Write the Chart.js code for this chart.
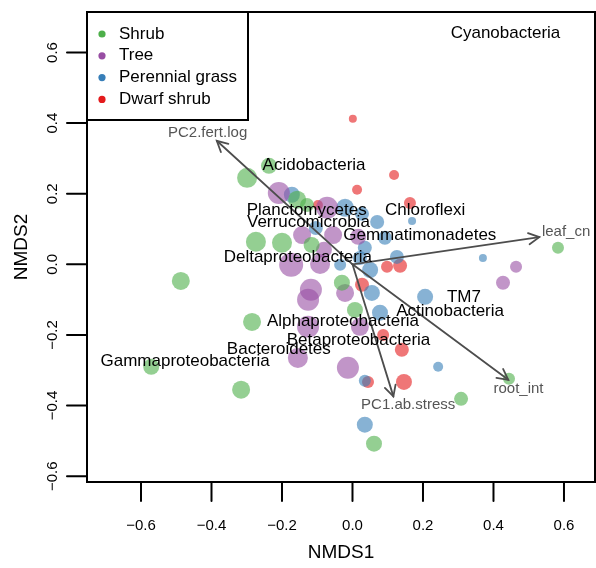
<!DOCTYPE html>
<html>
<head>
<meta charset="utf-8">
<script src="https://cdn.jsdelivr.net/npm/chart.js@4"></script>
<style>
html,body{margin:0;padding:0;background:#fff;}
canvas{display:block;}
</style>
</head>
<body>
<canvas id="c" width="596" height="568"></canvas>
<script>
// ---------- data ----------
const groups = ['Shrub', 'Tree', 'Perennial grass', 'Dwarf shrub'];

const shrubX = [-0.487, -0.299, -0.237, -0.274, -0.200, -0.157, -0.129, -0.285, -0.571, -0.316, 0.583, 0.444, 0.308, 0.061, -0.030, 0.007, -0.116];
const shrubY = [-0.047, 0.245, 0.279, 0.064, 0.061, 0.183, 0.168, -0.163, -0.290, -0.355, 0.047, -0.324, -0.381, -0.508, -0.052, -0.129, 0.055];
const shrubW = [9, 10, 8, 10, 10, 9, 7, 9, 8, 9, 6, 6, 7, 8, 8, 8, 8];

const treeX = [-0.209, -0.072, -0.143, -0.055, 0.016, -0.174, -0.092, -0.118, -0.126, -0.021, -0.126, 0.021, -0.155, -0.013, 0.427, 0.464, -0.081];
const treeY = [0.202, 0.160, 0.083, 0.083, 0.078, -0.001, 0.001, -0.072, -0.100, -0.081, -0.177, -0.177, -0.265, -0.293, -0.052, -0.007, 0.041];
const treeW = [11, 11, 9, 9, 8, 12, 10, 11, 11, 9, 11, 9, 10, 11, 7, 6, 8];

const grassX = [-0.172, -0.021, 0.027, 0.070, 0.092, 0.126, 0.050, 0.021, -0.035, 0.169, 0.206, 0.055, 0.078, 0.243, 0.035, 0.035, 0.370, -0.104, 0.035];
const grassY = [0.197, 0.160, 0.143, 0.120, 0.075, 0.021, -0.016, 0.018, -0.001, 0.123, -0.092, -0.081, -0.137, -0.290, -0.454, -0.330, 0.018, 0.103, 0.047];
const grassW = [8, 9, 7, 7, 7, 7, 8, 7, 6, 4, 8, 8, 8, 5, 8, 6, 4, 7, 7];

const dwarfX = [0.001, 0.118, 0.013, 0.163, 0.098, 0.135, 0.027, 0.087, 0.140, 0.044, 0.146, -0.098];
const dwarfY = [0.412, 0.253, 0.211, 0.174, -0.007, -0.004, -0.058, -0.200, -0.242, -0.333, -0.333, 0.168];
const dwarfW = [4, 5, 5, 6, 6, 7, 7, 6, 7, 6, 8, 5];

const taxaNames = ['Cyanobacteria', 'Acidobacteria', 'Planctomycetes', 'Verrucomicrobia', 'Gemmatimonadetes',
  'Deltaproteobacteria', 'Chloroflexi', 'TM7', 'Actinobacteria', 'Alphaproteobacteria',
  'Betaproteobacteria', 'Bacteroidetes', 'Gammaproteobacteria'];
const taxaX = [0.434, -0.109, -0.130, -0.125, 0.191, -0.155, 0.206, 0.316, 0.277, -0.027, 0.017, -0.209, -0.475];
const taxaY = [0.654, 0.281, 0.154, 0.118, 0.081, 0.020, 0.154, -0.093, -0.134, -0.162, -0.214, -0.242, -0.275];

const vectorNames = ['PC2.fert.log', 'leaf_cn', 'root_int', 'PC1.ab.stress'];
const vectorX = [-0.385, 0.530, 0.442, 0.116];
const vectorY = [0.350, 0.077, -0.327, -0.374];
const vectorLabelX = [-0.411, 0.606, 0.471, 0.158];
const vectorLabelY = [0.373, 0.093, -0.352, -0.398];

const xTicks = [-0.6, -0.4, -0.2, 0.0, 0.2, 0.4, 0.6];
const yTicks = [-0.6, -0.4, -0.2, 0.0, 0.2, 0.4, 0.6];
const xTitle = 'NMDS1';
const yTitle = 'NMDS2';

// ---------- styles ----------
const solid = ['#4DAF4A', '#984EA3', '#377EB8', '#E41A1C'];
const faded = ['rgba(77,175,74,0.6)', 'rgba(152,78,163,0.6)', 'rgba(55,126,184,0.6)', 'rgba(228,26,28,0.6)'];
const FONT = '"Liberation Sans", Arial, Helvetica, sans-serif';

function pts(xs, ys, ws) { return xs.map((x, i) => ({ x: x, y: ys[i], r: ws[i] })); }
const series = [pts(shrubX, shrubY, shrubW), pts(treeX, treeY, treeW), pts(grassX, grassY, grassW), pts(dwarfX, dwarfY, dwarfW)];

function fmt(v) {
  const s = Math.abs(v).toFixed(1);
  return v < -1e-9 ? '\u2212' + s : s;
}

const overlay = {
  id: 'overlay',
  afterDatasetsDraw(chart) {
    const ctx = chart.ctx;
    const xs = chart.scales.x, ys = chart.scales.y;
    const a = chart.chartArea;
    ctx.save();

    // arrows
    const ox = xs.getPixelForValue(0), oy = ys.getPixelForValue(0);
    ctx.strokeStyle = '#4D4D4D';
    ctx.lineWidth = 1.8;
    ctx.lineCap = 'round';
    vectorNames.forEach((n, i) => {
      const tx = xs.getPixelForValue(vectorX[i]), ty = ys.getPixelForValue(vectorY[i]);
      ctx.beginPath(); ctx.moveTo(ox, oy); ctx.lineTo(tx, ty); ctx.stroke();
      const ang = Math.atan2(ty - oy, tx - ox), L = 12, s = Math.PI / 6.5;
      ctx.beginPath();
      ctx.moveTo(tx - L * Math.cos(ang - s), ty - L * Math.sin(ang - s));
      ctx.lineTo(tx, ty);
      ctx.lineTo(tx - L * Math.cos(ang + s), ty - L * Math.sin(ang + s));
      ctx.stroke();
    });
    ctx.fillStyle = '#555555';
    ctx.font = '15px ' + FONT;
    ctx.textAlign = 'center'; ctx.textBaseline = 'middle';
    vectorNames.forEach((n, i) => {
      ctx.fillText(n, xs.getPixelForValue(vectorLabelX[i]), ys.getPixelForValue(vectorLabelY[i]));
    });

    // taxa labels
    ctx.fillStyle = '#000';
    ctx.font = '17px ' + FONT;
    taxaNames.forEach((n, i) => {
      ctx.fillText(n, xs.getPixelForValue(taxaX[i]), ys.getPixelForValue(taxaY[i]));
    });

    // legend
    const lx = a.left, ly = a.top, lw = 161, lh = 108;
    ctx.fillStyle = '#fff';
    ctx.fillRect(lx, ly, lw, lh);
    ctx.strokeStyle = '#000'; ctx.lineWidth = 2;
    ctx.strokeRect(lx, ly, lw, lh);
    ctx.font = '17px ' + FONT;
    ctx.textAlign = 'left';
    groups.forEach((g, i) => {
      const cy = ly + 22 + i * 21.8;
      ctx.fillStyle = solid[i];
      ctx.beginPath(); ctx.arc(lx + 15, cy, 3.6, 0, Math.PI * 2); ctx.fill();
      ctx.fillStyle = '#000';
      ctx.fillText(g, lx + 32, cy);
    });

    // frame
    ctx.lineWidth = 2; ctx.strokeStyle = '#000';
    ctx.strokeRect(a.left, a.top, a.right - a.left, a.bottom - a.top);

    // ticks
    ctx.beginPath();
    xTicks.forEach(v => { const p = xs.getPixelForValue(v); ctx.moveTo(p, a.bottom); ctx.lineTo(p, a.bottom + 19); });
    yTicks.forEach(v => { const p = ys.getPixelForValue(v); ctx.moveTo(a.left, p); ctx.lineTo(a.left - 20, p); });
    ctx.stroke();

    ctx.fillStyle = '#000';
    ctx.font = '15px ' + FONT;
    ctx.textAlign = 'center'; ctx.textBaseline = 'alphabetic';
    xTicks.forEach(v => ctx.fillText(fmt(v), xs.getPixelForValue(v), 530));
    yTicks.forEach(v => {
      ctx.save();
      ctx.translate(57, ys.getPixelForValue(v));
      ctx.rotate(-Math.PI / 2);
      ctx.fillText(fmt(v), 0, 0);
      ctx.restore();
    });

    ctx.font = '19px ' + FONT;
    ctx.fillText(xTitle, (a.left + a.right) / 2, 558);
    ctx.save();
    ctx.translate(27, (a.top + a.bottom) / 2);
    ctx.rotate(-Math.PI / 2);
    ctx.fillText(yTitle, 0, 0);
    ctx.restore();

    ctx.restore();
  }
};

new Chart(document.getElementById('c'), {
  type: 'bubble',
  data: {
    datasets: series.map((d, i) => ({
      label: groups[i],
      data: d,
      backgroundColor: faded[i],
      borderWidth: 0,
      hoverRadius: 0
    }))
  },
  options: {
    responsive: false,
    animation: false,
    events: [],
    layout: { autoPadding: false, padding: { left: 87, top: 12, right: 1, bottom: 86 } },
    scales: {
      x: { type: 'linear', min: -0.7532, max: 0.688, display: false },
      y: { type: 'linear', min: -0.6165, max: 0.7147, display: false }
    },
    plugins: { legend: { display: false }, tooltip: { enabled: false } }
  },
  plugins: [overlay]
});
</script>
</body>
</html>
